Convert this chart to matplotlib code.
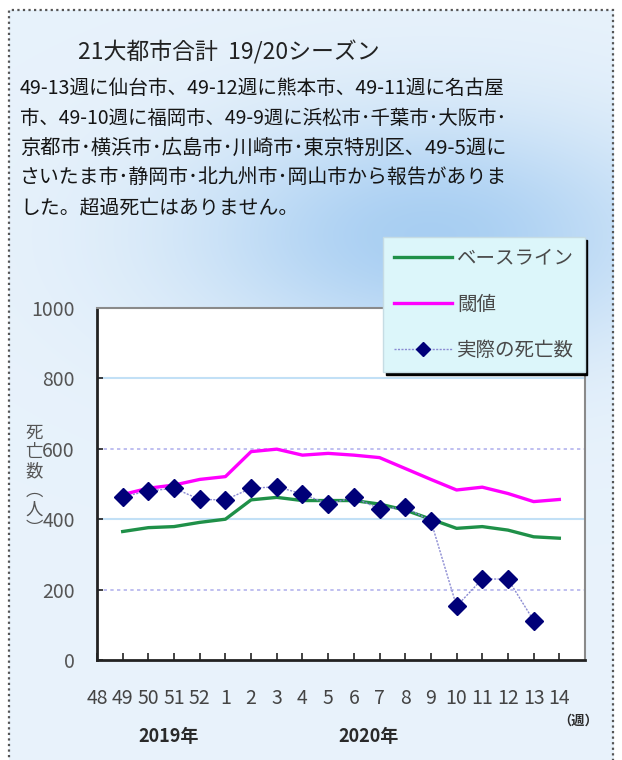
import matplotlib
matplotlib.use("Agg")
import matplotlib.pyplot as plt
from matplotlib.patches import Rectangle
import numpy as np

plt.rcParams['font.family'] = ['Noto Sans CJK JP', 'DejaVu Sans']

# data
weeks = ['48', '49', '50', '51', '52', '1', '2', '3', '4', '5', '6', '7',
         '8', '9', '10', '11', '12', '13', '14']
baseline = [365, 376, 379, 391, 400, 455, 462, 453, 453, 453, 443, 426,
            400, 374, 379, 369, 350, 346]
threshold = [470, 488, 497, 513, 521, 592, 599, 582, 587, 582, 575, 544,
             513, 483, 491, 473, 450, 456]
actual = [464, 480, 488, 456, 455, 488, 492, 472, 443, 462, 429, 434,
          395, 153, 230, 230, 112]
yticks = [0, 200, 400, 600, 800, 1000]

W, H = 622, 760
fig = plt.figure(figsize=(W / 100, H / 100), dpi=100)
fig.patch.set_facecolor('white')


def px(x, y):
    return x / W, 1 - y / H


# light blue gradient background inside the dotted frame
bg = fig.add_axes([0, 0, 1, 1], zorder=-10)
gx, gy = np.meshgrid(np.arange(W), np.arange(H))
w = np.exp(-((gx - 430) / 240.0) ** 2 - ((gy - 235) / 120.0) ** 2)
pale = np.array([0.91, 0.95, 0.985])
blue = np.array([0.66, 0.81, 0.95])
img = pale[None, None, :] * (1 - w[..., None]) + blue[None, None, :] * w[..., None]
inside = (gx >= 9) & (gx <= 613) & (gy >= 10)
img[~inside] = 1.0
bg.imshow(img, extent=[0, W, H, 0], aspect='auto')
bg.set_xlim(0, W)
bg.set_ylim(H, 0)
bg.axis('off')

fig.add_artist(Rectangle(px(9, 800), (613 - 9) / W, (800 - 10) / H,
                         transform=fig.transFigure, fill=False,
                         edgecolor='#555555', linestyle=(0, (1, 1.5)), lw=1.6))

# title and notes
fig.text(*px(78, 52), '21大都市合計  19/20シーズン', fontsize=16.5,
         color='#222222', va='center', ha='left')
lines = ['49-13週に仙台市、49-12週に熊本市、49-11週に名古屋',
         '市、49-10週に福岡市、49-9週に浜松市･千葉市･大阪市･',
         '京都市･横浜市･広島市･川崎市･東京特別区、49-5週に',
         'さいたま市･静岡市･北九州市･岡山市から報告がありま',
         'した。超過死亡はありません。']
renderer = fig.canvas.get_renderer()
sizes = []
for i, line in enumerate(lines):
    t = fig.text(*px(20, 88 + i * 30), line, fontsize=15, color='#151515',
                 va='center', ha='left')
    if i < len(lines) - 1:
        wd = t.get_window_extent(renderer).width
        t.set_fontsize(15 * 488 / wd)
        sizes.append(15 * 488 / wd)
    else:
        t.set_fontsize(np.mean(sizes))

# main chart
ax = fig.add_axes([97 / W, 1 - 660 / H, (585 - 97) / W, (660 - 308) / H])
ax.set_facecolor('white')
x = np.arange(len(weeks))

for i, v in enumerate(yticks[1:-1]):
    if i % 2 == 1:
        ax.axhline(v, color='#c2e0f6', lw=1.5, zorder=1)
    else:
        ax.axhline(v, color='#b4b4ee', lw=1.2, linestyle=(0, (2, 2)), zorder=1)

ax.plot(x[1:1 + len(baseline)], baseline, color='#1f9048', lw=2.4,
        label='ベースライン', zorder=3)
ax.plot(x[1:1 + len(threshold)], threshold, color='#ff00ff', lw=2.4,
        label='閾値', zorder=3)
ax.plot(x[1:1 + len(actual)], actual, color='#8a8ad2', lw=1.0,
        linestyle=(0, (1.5, 1)), marker='D', markersize=9.5,
        markerfacecolor='#000078', markeredgecolor='#000078',
        label='実際の死亡数', zorder=4)

ax.set_xlim(0, len(weeks))
ax.set_ylim(0, 1000)
ax.set_xticks(x)
ax.set_xticklabels(weeks)
ax.set_yticks(yticks)
ax.tick_params(axis='x', direction='in', length=5, width=1.2, color='#222222',
               pad=20, labelsize=14, labelcolor='#444444')
ax.tick_params(axis='y', direction='in', length=4, width=1.2, color='#222222',
               pad=16, labelsize=14, labelcolor='#555555')
for s in ['left', 'bottom']:
    ax.spines[s].set_color('#222222')
    ax.spines[s].set_linewidth(2)
for s in ['top', 'right']:
    ax.spines[s].set_color('#8a8a8a')
    ax.spines[s].set_linewidth(1.5)

leg = ax.legend(loc='upper left', bbox_to_anchor=px(383, 237),
                bbox_transform=fig.transFigure, borderaxespad=0,
                fontsize=14, handlelength=3.0, handletextpad=0.25,
                labelspacing=1.3, borderpad=0.55, markerscale=0.75,
                fancybox=False, framealpha=1, facecolor='#dcf6fa',
                edgecolor='#c6dce4', shadow={'color': 'black', 'alpha': 1})
for t in leg.get_texts():
    t.set_color('#4a4a4a')
leg.set_zorder(10)

# vertical y label
fig.text(*px(34, 481), '死\n亡\n数\n︵\n人\n︶', fontsize=12.5,
         color='#555555', ha='center', va='center', linespacing=1.08)

fig.text(*px(169, 737), '2019年', fontsize=13, color='#2a2a2a',
         ha='center', va='center', fontweight='bold')
fig.text(*px(369, 737), '2020年', fontsize=13, color='#2a2a2a',
         ha='center', va='center', fontweight='bold')
fig.text(*px(578, 721), '（週）', fontsize=9.5, color='#2a2a2a',
         ha='center', va='center', fontweight='bold')

fig.savefig('out.png', dpi=100)
